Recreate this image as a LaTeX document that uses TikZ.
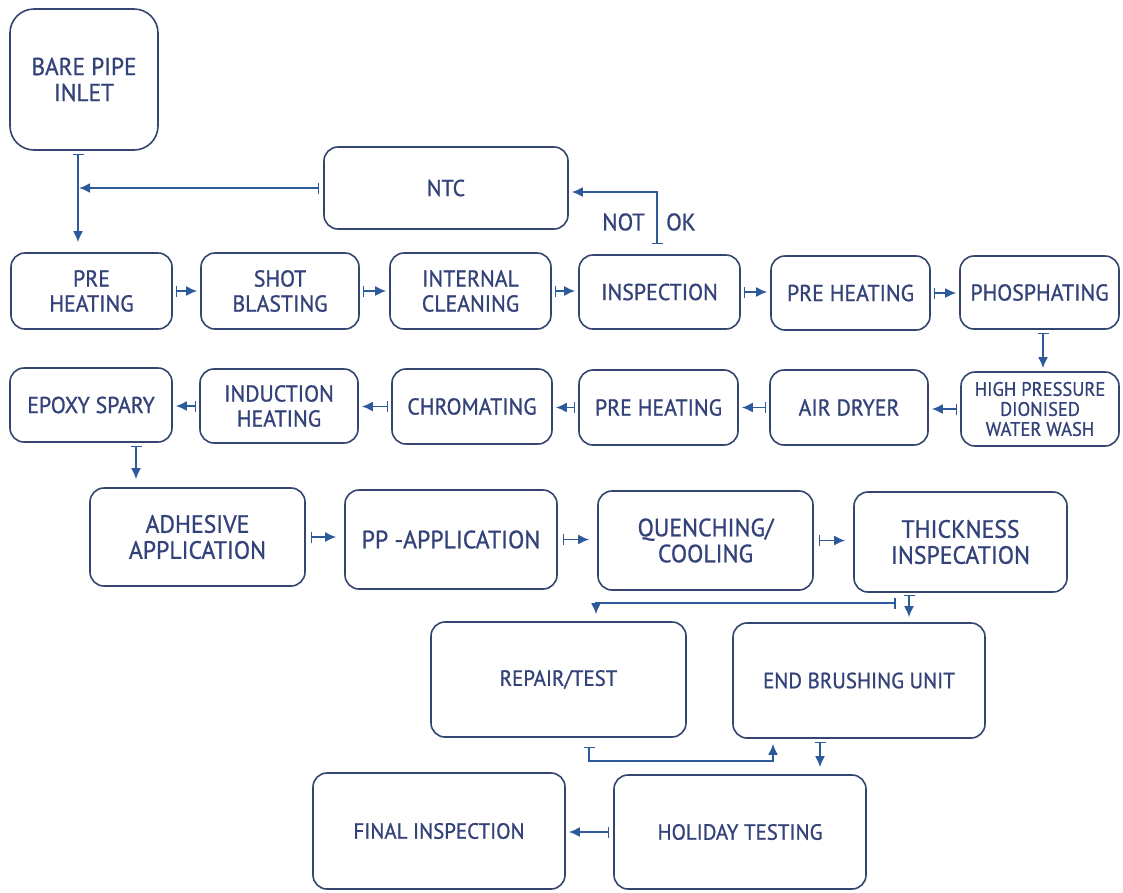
\documentclass[tikz,border=0pt]{standalone}
\usepackage{fontspec}
\setmainfont{PT Sans}[FakeStretch=0.95,FakeBold=0.9]
\usetikzlibrary{arrows.meta,calc}
\definecolor{boxc}{HTML}{34466F}
\definecolor{txtc}{HTML}{34427A}
\definecolor{arrc}{HTML}{2C5A9A}
\newcommand\pbox[7][]{\node[box,minimum width={#5-#3},minimum height={#6-#4},#1] (#2) at ({(#3+#5)/2},{(#4+#6)/2}) {#7};}
\begin{document}
\begin{tikzpicture}[x=1pt,y=-1pt,
  box/.style={draw=boxc,line width=1.6pt,rounded corners=14pt,inner sep=0pt,align=center,text=txtc,font=\fontsize{23}{25}\selectfont},
  mid/.style={font=\fontsize{22}{25}\selectfont},
  big/.style={font=\fontsize{25}{26}\selectfont},
  small/.style={font=\fontsize{19.5}{20}\selectfont},
  conn/.style={draw=arrc,line width=1.8pt,arrows={Bar[width=11pt,line width=1.6pt]-Latex[length=11pt,width=10pt]},shorten <=3pt,shorten >=3pt},
  lbl/.style={text=txtc,font=\fontsize{24}{24}\selectfont,inner sep=0pt}]
\useasboundingbox[fill=white] (0,0) rectangle (1123,892);
% boxes
\pbox[rounded corners=24pt,font=\fontsize{24.5}{26}\selectfont]{bare}{10}{9}{158}{150}{BARE PIPE\\INLET}
\pbox{ntc}{324}{147}{568}{229}{NTC}
% row 1
\pbox{ph1}{11}{253}{172}{329}{PRE\\HEATING}
\pbox{sb}{201}{253}{359}{329}{SHOT\\BLASTING}
\pbox{ic}{390}{253}{551}{329}{INTERNAL\\CLEANING}
\pbox{insp}{579}{255}{740}{329}{INSPECTION}
\pbox{ph2}{771}{256}{930}{330}{PRE HEATING}
\pbox{phos}{960}{256}{1119}{329}{PHOSPHATING}
% row 2
\pbox{epx}{10}{368}{172}{442}{EPOXY SPARY}
\pbox{ind}{200}{369}{358}{443}{INDUCTION\\HEATING}
\pbox{chr}{392}{369}{552}{444}{CHROMATING}
\pbox{ph3}{579}{370}{738}{445}{PRE HEATING}
\pbox{air}{770}{370}{928}{445}{AIR DRYER}
\pbox[small]{hp}{961}{372}{1119}{446}{HIGH PRESSURE\\DIONISED\\WATER WASH}
% row 3
\pbox[big]{adh}{90}{488}{305}{586}{ADHESIVE\\APPLICATION}
\pbox[big]{pp}{345}{490}{557}{589}{PP -APPLICATION}
\pbox[big]{qc}{598}{491}{813}{590}{QUENCHING/\\COOLING}
\pbox[big]{thk}{854}{492}{1067}{592}{THICKNESS\\INSPECATION}
% row 4
\pbox[mid]{rt}{431}{622}{686}{737}{REPAIR/TEST}
\pbox[mid]{ebu}{733}{623}{985}{738}{END BRUSHING UNIT}
% row 5
\pbox[mid]{fin}{313}{773}{565}{889}{FINAL INSPECTION}
\pbox[mid]{hol}{614}{775}{866}{889}{HOLIDAY TESTING}
% helper coordinates
\coordinate (xb) at (78,0);
\coordinate (xi) at (657,0);
\coordinate (yn) at (0,192);
\coordinate (xp) at (1043,0);
\coordinate (xe) at (136,0);
\coordinate (xt) at (909,0);
\coordinate (tb) at (896,603);
\coordinate (xr) at (596,0);
\coordinate (xs) at (589,0);
\coordinate (yl) at (0,761);
\coordinate (xu) at (773,0);
\coordinate (xh) at (820,0);
% connectors
\draw[conn,shorten >=10pt] (bare.south -| xb) -- (ph1.north -| xb);
\draw[conn,shorten <=4pt,shorten >=1pt] (ntc.west) -- (ntc.west -| xb);
\draw[conn,shorten <=10pt] (insp.north -| xi) -- (xi |- yn) -- (ntc.east |- yn);
\draw[conn] (ph1.east) -- (ph1.east -| sb.west);
\draw[conn] (sb.east) -- (sb.east -| ic.west);
\draw[conn] (ic.east) -- (ic.east -| insp.west);
\draw[conn] (insp.east) -- (insp.east -| ph2.west);
\draw[conn] (ph2.east) -- (ph2.east -| phos.west);
\draw[conn] (phos.south -| xp) -- (hp.north -| xp);
\draw[conn] (hp.west) -- (hp.west -| air.east);
\draw[conn] (air.west) -- (air.west -| ph3.east);
\draw[conn] (ph3.west) -- (ph3.west -| chr.east);
\draw[conn] (chr.west) -- (chr.west -| ind.east);
\draw[conn] (ind.west) -- (ind.west -| epx.east);
\draw[conn,shorten >=8pt] (epx.south -| xe) -- (adh.north -| xe);
\draw[conn,shorten <=5pt,shorten >=8pt] (adh.east) -- (adh.east -| pp.west);
\draw[conn,shorten <=5pt,shorten >=8pt] (pp.east) -- (pp.east -| qc.west);
\draw[conn,shorten <=5pt,shorten >=8pt] (qc.east) -- (qc.east -| thk.west);
\draw[conn,shorten <=2pt,shorten >=5pt] (thk.south -| xt) -- (ebu.north -| xt);
\draw[conn,shorten <=0pt,shorten >=7pt] (tb) -| (rt.north -| xr);
\draw[conn,shorten <=9pt,shorten >=5pt] (rt.south -| xs) |- (xu |- yl) -- (ebu.south -| xu);
\draw[conn,shorten <=3pt,shorten >=7pt] (ebu.south -| xh) -- (hol.north -| xh);
\draw[conn,shorten <=4pt] (hol.west) -- (hol.west -| fin.east);
% labels
\node[lbl,anchor=east] (nt) at (645,222) {NOT};
\node[lbl,anchor=west] (ok) at (666,222) {OK};
\end{tikzpicture}
\end{document}
